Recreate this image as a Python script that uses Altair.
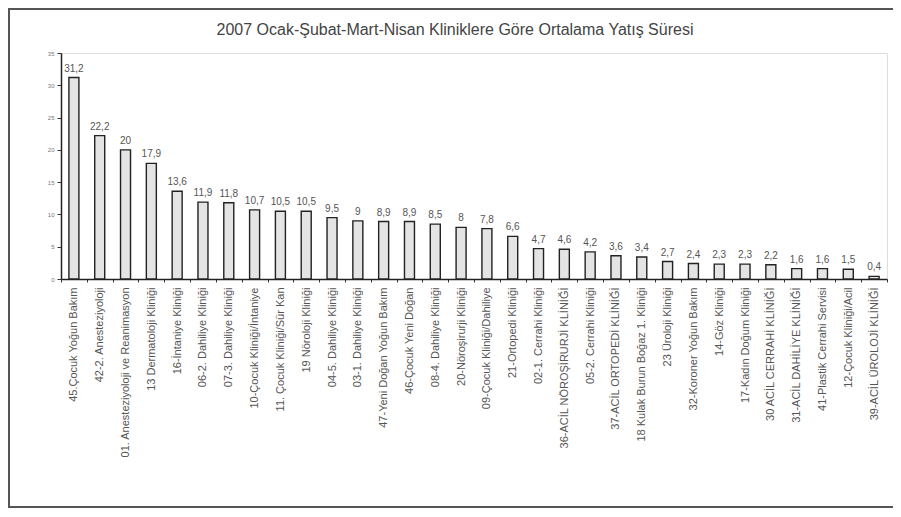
import altair as alt
import pandas as pd

categories = [
    "45.Çocuk Yoğun Bakım",
    "42-2. Anesteziyoloji",
    "01. Anesteziyoloji ve Reanimasyon",
    "13 Dermatoloji Kliniği",
    "16-İntaniye Kliniği",
    "06-2. Dahiliye Kliniği",
    "07-3. Dahiliye Kliniği",
    "10-Çocuk Kliniği/İntaniye",
    "11. Çocuk Kliniği/Sür Kan",
    "19 Nöroloji Kliniği",
    "04-5. Dahiliye Kliniği",
    "03-1. Dahiliye Kliniği",
    "47-Yeni Doğan Yoğun Bakım",
    "46-Çocuk Yeni Doğan",
    "08-4. Dahiliye Kliniği",
    "20-Nöroşirurji Kliniği",
    "09-Çocuk Kliniği/Dahiliye",
    "21-Ortopedi Kliniği",
    "02-1. Cerrahi Kliniği",
    "36-ACİL NÖROŞİRURJİ KLİNİĞİ",
    "05-2. Cerrahi Kliniği",
    "37-ACİL ORTOPEDİ KLİNİĞİ",
    "18 Kulak Burun Boğaz 1. Kliniği",
    "23 Üroloji Kliniği",
    "32-Koroner Yoğun Bakım",
    "14-Göz Kliniği",
    "17-Kadın Doğum Kliniği",
    "30 ACİL CERRAHİ KLİNİĞİ",
    "31-ACİL DAHİLİYE KLİNİĞİ",
    "41-Plastik Cerrahi Servisi",
    "12-Çocuk Kliniği/Acil",
    "39-ACİL ÜROLOJİ KLİNİĞİ",
]
values = [31.2, 22.2, 20, 17.9, 13.6, 11.9, 11.8, 10.7, 10.5, 10.5, 9.5, 9, 8.9, 8.9,
          8.5, 8, 7.8, 6.6, 4.7, 4.6, 4.2, 3.6, 3.4, 2.7, 2.4, 2.3, 2.3, 2.2, 1.6, 1.6,
          1.5, 0.4]
y_ticks = [0, 5, 10, 15, 20, 25, 30, 35]
title_text = ["2007 Ocak-Şubat-Mart-Nisan Kliniklere Göre Ortalama Yatış Süresi"]

df = pd.DataFrame({
    "klinik": categories,
    "deger": values,
    "etiket": [(f"{v:g}").replace(".", ",") for v in values],
})
title_df = pd.DataFrame({"baslik": title_text})

W, H = 826, 226
FONT = "Liberation Sans"

x_enc = alt.X(
    "klinik:N", sort=None, title=None,
    scale=alt.Scale(paddingInner=0, paddingOuter=0),
    axis=alt.Axis(labelAngle=270, labelFontSize=11, labelColor="#555", labelFont=FONT,
                  labelPadding=5, labelLimit=300, tickBand="extent", tickSize=3,
                  tickColor="#333", domainColor="#222", domainWidth=1.5, labelAlign="right",
                  labelBaseline="middle"),
)
y_enc = alt.Y(
    "deger:Q", title=None,
    scale=alt.Scale(domain=[0, 35], nice=False, zero=True),
    axis=alt.Axis(values=y_ticks, tickCount=8, labelFontSize=6, labelColor="#777",
                  labelFont=FONT, grid=False, tickSize=4, tickColor="#333",
                  domainColor="#222", domainWidth=1.5, labelPadding=3,
                  labelOverlap=False, labelFlush=False, labelBound=False),
)

bars = alt.Chart(df).mark_bar(size=10, fill="#e4e4e4", stroke="#222", strokeWidth=1.4).encode(
    x=x_enc, y=y_enc
)
labels = alt.Chart(df).mark_text(dy=-9, fontSize=10, color="#555", font=FONT).encode(
    x=x_enc, y=y_enc, text="etiket:N"
)
frame = alt.Chart(df).mark_rect(fill=None, stroke="#555", strokeWidth=1.5).encode(
    x=alt.value(-52), x2=alt.value(W + 20), y=alt.value(-44), y2=alt.value(H + 228)
)
title = alt.Chart(title_df).mark_text(fontSize=16, font=FONT, color="#444",
                                      align="center", baseline="alphabetic").encode(
    x=alt.value(394), y=alt.value(-18), text="baslik:N"
)

chart = alt.layer(frame, bars, labels, title).properties(
    width=W, height=H,
    autosize=alt.AutoSizeParams(type="none"),
    padding={"left": 53, "top": 45, "right": 6, "bottom": 230},
).configure_view(stroke=None).configure(background="white")

chart.save("out.html", embed_options={"renderer": "svg", "actions": False})
